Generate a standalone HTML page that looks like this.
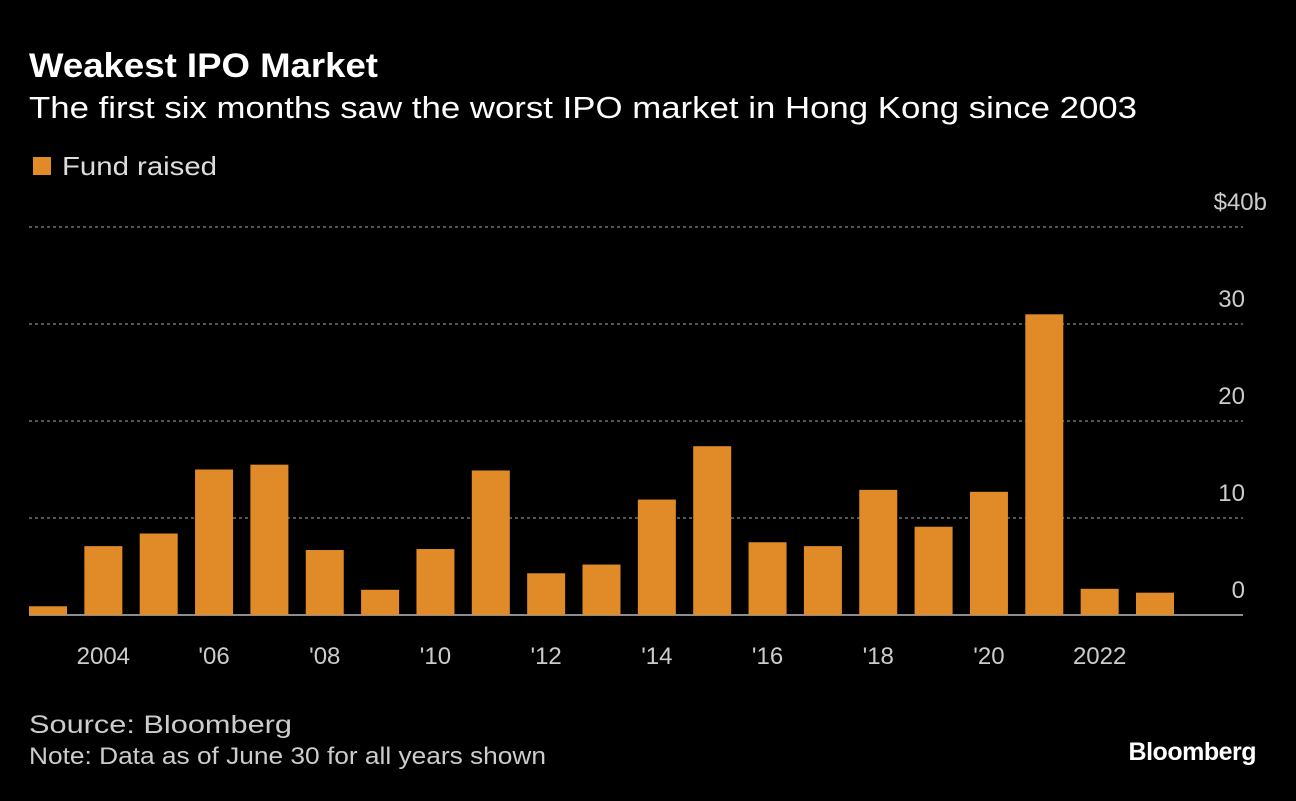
<!DOCTYPE html>
<html><head><meta charset="utf-8"><style>
body{margin:0;background:#000;width:1296px;height:796px;overflow:hidden;font-family:"Liberation Sans",sans-serif;color:#fff}
</style></head><body>
<svg width="1296" height="796" viewBox="0 0 1296 796">
<text x="29" y="77" font-size="34" font-weight="bold" fill="#fff" textLength="349" lengthAdjust="spacingAndGlyphs">Weakest IPO Market</text>
<text x="29" y="118" font-size="31" fill="#fff" textLength="1108" lengthAdjust="spacingAndGlyphs">The first six months saw the worst IPO market in Hong Kong since 2003</text>
<rect x="33" y="157" width="18" height="18" fill="#e08b27"/>
<text x="62" y="175" font-size="26" fill="#ddd" textLength="155" lengthAdjust="spacingAndGlyphs">Fund raised</text>
<g id="grid"></g><g id="bars"></g><g id="xlabels"></g>
<text x="29" y="733" font-size="25" fill="#ccc" textLength="263" lengthAdjust="spacingAndGlyphs">Source: Bloomberg</text>
<text x="29" y="764" font-size="24" fill="#ccc" textLength="517" lengthAdjust="spacingAndGlyphs">Note: Data as of June 30 for all years shown</text>
<text x="1256" y="760" font-size="25" font-weight="bold" fill="#fff" text-anchor="end" letter-spacing="-0.5">Bloomberg</text>
</svg>
<script>
const years=[2003,2004,2005,2006,2007,2008,2009,2010,2011,2012,2013,2014,2015,2016,2017,2018,2019,2020,2021,2022,2023];
const values=[0.9,7.1,8.4,15.0,15.5,6.7,2.6,6.8,14.9,4.3,5.2,11.9,17.4,7.5,7.1,12.9,9.1,12.7,31.0,2.7,2.3];
const yTicks=[0,10,20,30,40];
const yTickLabels=["0","10","20","30","$40b"];
const xLabelYears=[2004,2006,2008,2010,2012,2014,2016,2018,2020,2022];
const xLabelText=["2004","'06","'08","'10","'12","'14","'16","'18","'20","2022"];
const NS="http://www.w3.org/2000/svg";
const y=v=>615-v*9.7;
const x=yr=>48+(yr-2003)*55.35;
const grid=document.getElementById('grid'),bars=document.getElementById('bars'),xl=document.getElementById('xlabels');
yTicks.forEach((t,i)=>{
 const l=document.createElementNS(NS,'line');
 
 
 l.setAttribute('x1',29);l.setAttribute('x2',1243);l.setAttribute('y1',y(t));l.setAttribute('y2',y(t));
 l.setAttribute('stroke',t===0?'#bbb':'#888');l.setAttribute('stroke-width',t===0?1.5:1.2);
 if(t!==0)l.setAttribute('stroke-dasharray','3,3');
 grid.appendChild(l);
 const tx=document.createElementNS(NS,'text');
 
 
 tx.setAttribute('x',i===yTicks.length-1?1267:1245);tx.setAttribute('y',y(t)-17);tx.setAttribute('text-anchor','end');
 tx.setAttribute('font-size','24');tx.setAttribute('fill','#ccc');tx.textContent=yTickLabels[i];
 grid.appendChild(tx);
});
years.forEach((yr,i)=>{
 const r=document.createElementNS(NS,'rect');
 
 
 r.setAttribute('x',x(yr)-19);r.setAttribute('width',38);
 r.setAttribute('y',y(values[i]));r.setAttribute('height',615-y(values[i]));
 r.setAttribute('fill','#e08b27');bars.appendChild(r);
});
xLabelYears.forEach((yr,i)=>{
 const tx=document.createElementNS(NS,'text');
 
 
 tx.setAttribute('x',x(yr));tx.setAttribute('y',664);tx.setAttribute('text-anchor','middle');
 tx.setAttribute('font-size','24');tx.setAttribute('fill','#ccc');tx.textContent=xLabelText[i];
 xl.appendChild(tx);
});
</script>
</body></html>
